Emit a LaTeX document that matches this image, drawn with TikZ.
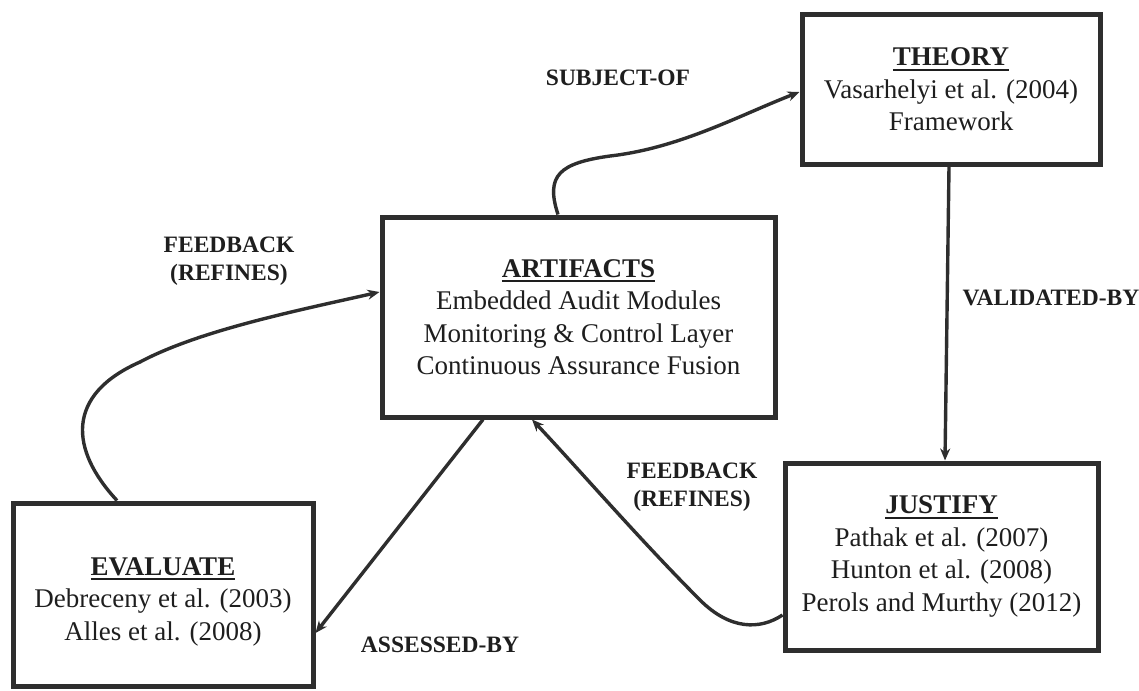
\documentclass[tikz,border=0pt]{standalone}
\usepackage{fontspec}
\setmainfont{Liberation Serif}
\usetikzlibrary{arrows.meta}
\definecolor{ink}{HTML}{2E2E2E}
\definecolor{txt}{HTML}{1E1E1E}
% bold heading with a heavy underline
\newcommand{\titleul}[1]{\setbox0\hbox{\textbf{#1}}\rlap{\rule[-5pt]{\wd0}{2.2pt}}\box0}
\begin{document}
\begin{tikzpicture}[x=1pt,y=-1pt,
  box/.style={draw=ink, line width=5pt, inner sep=0pt, align=center,
    font=\fontsize{27}{32.5}\selectfont, text=txt},
  conn/.style={draw=ink, line width=3.4pt,
    -{Stealth[length=12pt,width=10pt]}},
  tag/.style={font=\fontsize{23.5}{28.5}\selectfont\bfseries, align=center, text=txt}]
\useasboundingbox (0,0) rectangle (1139,690);

% boxes
\node[box, minimum width=298pt, minimum height=149pt] (theory) at (951,89.5)
  {\titleul{THEORY}\\Vasarhelyi et al. (2004)\\Framework};
\node[box, minimum width=393pt, minimum height=200pt] (artifacts) at (578.5,317)
  {\titleul{ARTIFACTS}\\Embedded Audit Modules\\Monitoring \& Control Layer\\Continuous Assurance Fusion};
\node[box, minimum width=313pt, minimum height=187pt] (justify) at (941.5,556.5)
  {\titleul{JUSTIFY}\\Pathak et al. (2007)\\Hunton et al. (2008)\\Perols and Murthy (2012)};
\node[box, minimum width=300pt, minimum height=183pt] (evaluate) at (163,594.5)
  {\rule{0pt}{14pt}\\[-14pt]\titleul{EVALUATE}\\Debreceny et al. (2003)\\Alles et al. (2008)};

% connectors
\draw[conn] ([xshift=-20.5pt]artifacts.north)
  .. controls (545,175) and (560,163) .. (610,156)
  .. controls (680,148) and (740,115) .. ([yshift=-2.5pt]theory.west);
\draw[conn] ([xshift=-2pt]theory.south) -- ([xshift=3.5pt]justify.north);
\draw[conn] ([yshift=-58.5pt]justify.west)
  .. controls (760,630) and (730,630) .. (700,600)
  .. controls (640,540) and (575,465) .. ([xshift=-46.5pt]artifacts.south);
\draw[conn] ([xshift=-95.5pt]artifacts.south) -- ([yshift=-38.5pt]evaluate.east);
\draw[conn] ([xshift=-46pt]evaluate.north)
  .. controls (70,450) and (65,395) .. (140,362)
  .. controls (200,330) and (300,310) .. ([yshift=25pt]artifacts.west);

% connector labels
\node[tag] (lsubject) at (618,78) {SUBJECT-OF};
\node[tag] (lvalid) at (1051,298) {VALIDATED-BY};
\node[tag] (lfeedleft) at (229,261) {FEEDBACK\\(REFINES)};
\node[tag] (lfeedright) at (692,487) {FEEDBACK\\(REFINES)};
\node[tag] (lassess) at (440,645) {ASSESSED-BY};
\end{tikzpicture}
\end{document}
